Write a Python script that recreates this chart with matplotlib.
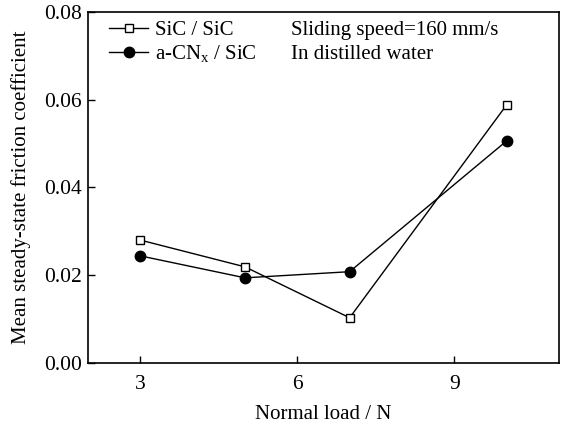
import matplotlib
matplotlib.use('Agg')
import matplotlib.pyplot as plt

plt.rcParams['font.family'] = ['Liberation Serif', 'DejaVu Serif']
plt.rcParams['mathtext.fontset'] = 'custom'
plt.rcParams['mathtext.rm'] = 'Liberation Serif'

# data
load = [3, 5, 7, 10]
sic_sic = [0.0280, 0.0219, 0.0103, 0.0588]
cnx_sic = [0.0244, 0.0194, 0.0208, 0.0506]
x_ticks = [3, 6, 9]
y_ticks = [0.00, 0.02, 0.04, 0.06, 0.08]


def main():
    fig = plt.figure(figsize=(5.68, 4.26), dpi=100)
    ax = fig.add_axes([0.155, 0.148, 0.829, 0.824])

    ax.plot(load, sic_sic, color='black', lw=1.0, marker='s', ms=6,
            mfc='white', mec='black', mew=1.0, label='SiC / SiC')
    ax.plot(load, cnx_sic, color='black', lw=1.0, marker='o', ms=7.5,
            mfc='black', mec='black', label=r'a-CN$_\mathrm{x}$ / SiC')

    ax.set_xlim(2, 11)
    ax.set_ylim(0, 0.08)
    ax.set_xticks(x_ticks)
    ax.set_yticks(y_ticks)
    ax.set_yticklabels(['%.2f' % v for v in y_ticks])
    ax.tick_params(direction='in', length=5, width=1.0, labelsize=15.5,
                   top=False, right=False)
    ax.tick_params(axis='x', pad=8.5)
    ax.tick_params(axis='y', pad=4.5)
    for s in ax.spines.values():
        s.set_linewidth(1.2)

    ax.set_xlabel('Normal load / N', fontsize=15, labelpad=8)
    ax.set_ylabel('Mean steady-state friction coefficient', fontsize=15,
                  labelpad=9)

    ax.legend(loc='upper left', bbox_to_anchor=(0, 1.034), frameon=False,
              fontsize=15, handlelength=1.9, handletextpad=0.3,
              borderaxespad=0.5, labelspacing=0.15, borderpad=0.5)
    ax.text(0.432, 0.973, 'Sliding speed=160 mm/s\nIn distilled water',
            transform=ax.transAxes, ha='left', va='top', fontsize=15,
            linespacing=1.3)

    fig.savefig('out.png', dpi=100)


if __name__ == '__main__':
    main()
